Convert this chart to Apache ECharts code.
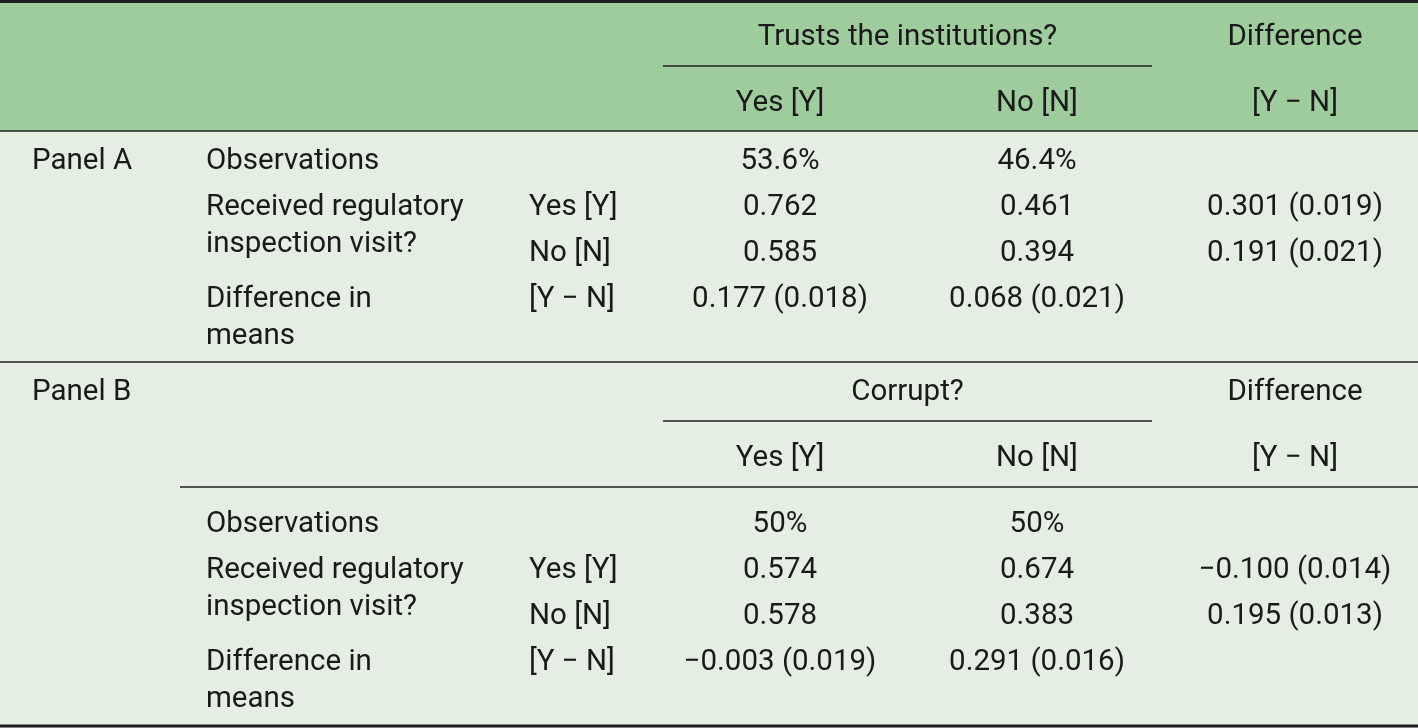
<!DOCTYPE html>
<html>
<head>
<meta charset="utf-8">
<script src="https://cdn.jsdelivr.net/npm/echarts@6/dist/echarts.min.js"></script>
<style>
  html, body { margin: 0; padding: 0; background: #e4eee2; }
  #main { width: 1418px; height: 728px; }
</style>
</head>
<body>
<div id="main"></div>
<script>
(function() {
	'use strict';

	// ---- table content ----
	var panelLabels = [ "Panel A", "Panel B" ];
	var groupHeaders = [ "Trusts the institutions?", "Corrupt?" ];
	var colHeaders = [ "Yes [Y]", "No [N]" ];
	var diffHeaders = [ "Difference", "[Y \u2212 N]" ];
	var rowLabels = [ "Observations", "Received regulatory\ninspection visit?", "", "Difference in\nmeans" ];
	var subLabels = [ "", "Yes [Y]", "No [N]", "[Y \u2212 N]" ];

	var panelAYes = [ "53.6%", "0.762", "0.585", "0.177 (0.018)" ];
	var panelANo = [ "46.4%", "0.461", "0.394", "0.068 (0.021)" ];
	var panelADiff = [ "", "0.301 (0.019)", "0.191 (0.021)", "" ];

	var panelBYes = [ "50%", "0.574", "0.578", "\u22120.003 (0.019)" ];
	var panelBNo = [ "50%", "0.674", "0.383", "0.291 (0.016)" ];
	var panelBDiff = [ "", "\u22120.100 (0.014)", "0.195 (0.013)", "" ];

	// ---- layout (in axis units = px) ----
	var W = 1418, H = 728;
	var col = { panel: 32, label: 206, sub: 529, yes: 780, no: 1037, diff: 1295, groupL: 663, groupR: 1152 };
	var panels = [
		{ hdr1: 36, hdr2: 102, rows: [ 160, 206, 252, 298 ], yes: panelAYes, no: panelANo, diff: panelADiff },
		{ hdr1: 391, hdr2: 457, rows: [ 523, 569, 615, 661 ], yes: panelBYes, no: panelBNo, diff: panelBDiff }
	];
	var wrapGap = 37;
	var textShift = 2;
	var font = { family: "Roboto", size: 29.5, color: "#1a1a1a" };
	var green = "#9fcc9d", pale = "#e4eee2", rule = "#1f1f1f";

	// text cells: [x, y, text, align]
	var cells = [];
	panels.forEach(function(p, i) {
		cells.push([ col.panel, p.hdr1 + (i === 0 ? 124 : 0), panelLabels[i], "left" ]);
		cells.push([ (col.groupL + col.groupR) / 2, p.hdr1, groupHeaders[i], "center" ]);
		cells.push([ col.diff, p.hdr1, diffHeaders[0], "center" ]);
		cells.push([ col.yes, p.hdr2, colHeaders[0], "center" ]);
		cells.push([ col.no, p.hdr2, colHeaders[1], "center" ]);
		cells.push([ col.diff, p.hdr2, diffHeaders[1], "center" ]);
		p.rows.forEach(function(y, r) {
			if (rowLabels[r]) cells.push([ col.label, y, rowLabels[r], "left" ]);
			if (subLabels[r]) cells.push([ col.sub, y, subLabels[r], "left" ]);
			if (p.yes[r]) cells.push([ col.yes, y, p.yes[r], "center" ]);
			if (p.no[r]) cells.push([ col.no, y, p.no[r], "center" ]);
			if (p.diff[r]) cells.push([ col.diff, y, p.diff[r], "center" ]);
		});
	});

	// bands: [x1, y1, x2, y2, color]
	var bands = [
		[ 0, 0, W, 131, green ],
		[ 0, 131, W, H, pale ]
	];

	// rules: [x1, x2, y, width]
	var rules = [
		[ 0, W, 1.5, 3 ],
		[ col.groupL, col.groupR, 66, 1.5 ],
		[ 0, W, 131, 1.5 ],
		[ 0, W, 362, 1.5 ],
		[ col.groupL, col.groupR, 421, 1.5 ],
		[ 180, W, 487, 1.5 ],
		[ 0, W, 726, 3 ]
	];

	var chart = echarts.init(document.getElementById("main"), null, { renderer: "canvas" });

	var option = {
		animation: false,
		backgroundColor: pale,
		grid: { left: 0, right: 0, top: 0, bottom: 0 },
		xAxis: { type: "value", min: 0, max: W, show: false },
		yAxis: { type: "value", min: 0, max: H, inverse: true, show: false },
		series: [ {
			type: "custom",
			silent: true,
			data: bands,
			renderItem: function(params, api) {
				var a = api.coord([ api.value(0), api.value(1) ]);
				var b = api.coord([ api.value(2), api.value(3) ]);
				return {
					type: "rect",
					shape: { x: a[0], y: a[1], width: b[0] - a[0], height: b[1] - a[1] },
					style: { fill: bands[params.dataIndex][4] }
				};
			}
		}, {
			type: "custom",
			silent: true,
			data: rules,
			renderItem: function(params, api) {
				var a = api.coord([ api.value(0), api.value(2) ]);
				var b = api.coord([ api.value(1), api.value(2) ]);
				return {
					type: "line",
					shape: { x1: a[0], y1: a[1], x2: b[0], y2: b[1] },
					style: { stroke: rule, lineWidth: api.value(3) }
				};
			}
		}, {
			type: "custom",
			silent: true,
			data: cells,
			renderItem: function(params, api) {
				var c = cells[params.dataIndex];
				var p = api.coord([ c[0], c[1] - wrapGap / 2 + textShift ]);
				return {
					type: "text",
					style: {
						text: c[2],
						x: p[0],
						y: p[1],
						align: c[3],
						verticalAlign: "top",
						lineHeight: wrapGap,
						fontFamily: font.family,
						fontSize: font.size,
						fill: font.color
					}
				};
			}
		} ]
	};

	chart.setOption(option);
}());
</script>
</body>
</html>
